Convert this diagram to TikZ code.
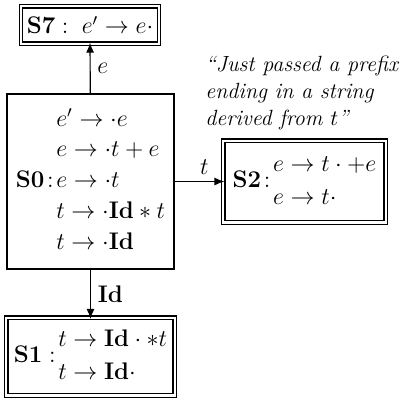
\documentclass[tikz,border=0pt]{standalone}
\usepackage{amsmath}
\usetikzlibrary{arrows.meta}
\usetikzlibrary{positioning}

\tikzset{
    state/.style={draw, semithick, inner sep=2pt, font=\fontsize{12}{14}\selectfont},
    trans/.style={-{Latex[length=5pt,width=4pt]}, semithick},
    lbl/.style={font=\fontsize{12}{14}\selectfont},
}

\begin{document}
\begin{tikzpicture}
    \useasboundingbox (0,0) rectangle (203pt,199pt);

    % States
    \renewcommand{\arraystretch}{1.1}
    \node [state, minimum width=83.5pt, minimum height=87.5pt] (S0) at (45.25pt,108.25pt)
        {$\mathbf{S0}\!:\!\begin{array}{@{}l@{}}
            e'\to\cdot e\\
            e\to\cdot t+e\\
            e\to\cdot t\\
            t\to\cdot\mathbf{Id}*t\\
            t\to\cdot\mathbf{Id}
        \end{array}$};

    \renewcommand{\arraystretch}{1.15}
    \node [state, minimum width=66pt, minimum height=17pt] (S7) at (45pt,186.5pt)
        {$\mathbf{S7}:\; e'\to e\cdot$};

    \node [state, minimum width=79.5pt, minimum height=39pt] (S2) at (152.25pt,108.25pt)
        {$\mathbf{S2}\!:\!\begin{array}{@{}l@{}}
            e\to t\cdot{+}e\\
            e\to t\cdot
        \end{array}$};

    \node [state, minimum width=82.5pt, minimum height=37pt] (S1) at (45.25pt,20.75pt)
        {$\mathbf{S1}:\!\begin{array}{@{}l@{}}
            t\to\mathbf{Id}\cdot*t\\
            t\to\mathbf{Id}\cdot
        \end{array}$};

    % Outer borders of the final states
    \foreach \s in {S7,S2,S1}
        \draw [semithick] ([shift={(-1.5pt,-1.5pt)}]\s.south west) rectangle ([shift={(1.5pt,1.5pt)}]\s.north east);

    % Transitions
    \draw [trans] (S0) -- node [right, lbl] {$e$} (S7);
    \draw [trans] (S0) -- node [pos=0.6, above, lbl] {$t$} (S2);
    \draw [trans] (S0) -- node [right, lbl] {$\mathbf{Id}$} (S1);

    % Note
    \node [anchor=north west, align=left, inner sep=0pt, font=\fontsize{11}{13.5}\selectfont\itshape]
        (note) at (102.5pt,171pt)
        {``Just passed a prefix\\ending in a string\\derived from $t$''};

\end{tikzpicture}
\end{document}
